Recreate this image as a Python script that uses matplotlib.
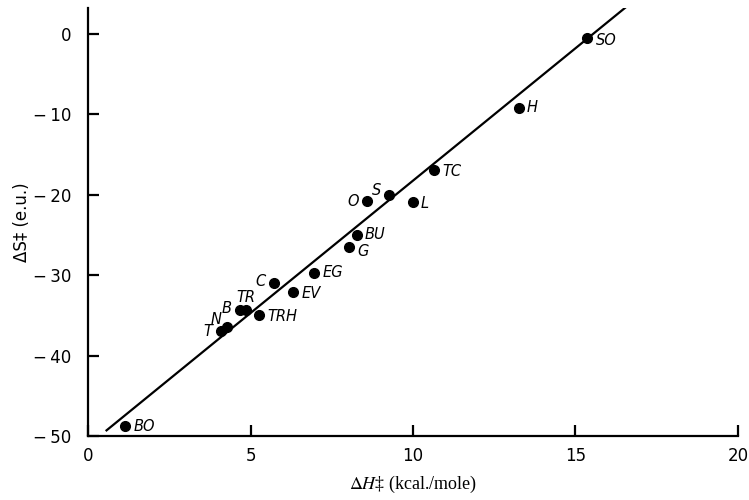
import matplotlib
matplotlib.use("Agg")
import matplotlib.pyplot as plt

plt.rcParams["mathtext.fontset"] = "stix"

labels = ["BO", "T", "N", "B", "TR", "TRH", "C", "EV", "EG", "G", "BU",
          "O", "S", "L", "TC", "H", "SO"]
dH = [1.14, 4.08, 4.27, 4.68, 4.86, 5.26, 5.72, 6.32, 6.95, 8.03, 8.27,
      8.60, 9.27, 9.99, 10.66, 13.25, 15.36]
dS = [-48.7, -37.0, -36.4, -34.3, -34.4, -35.0, -31.0, -32.1, -29.7, -26.5, -25.0,
      -20.8, -20.0, -20.9, -16.9, -9.2, -0.5]
fit_x = [0.57, 16.55]
fit_y = [-49.3, 3.3]
yticks = [0, -10, -20, -30, -40, -50]
ytick_labels = ["0", "\u2212\u200910", "\u2212\u200920", "\u2212\u200930",
                "\u2212\u200940", "\u2212\u200950"]

# label offsets in points (dx, dy, ha)
offsets = {
    "BO": (6, -1, "left"), "T": (-6, 0, "right"), "N": (-4, 5, "right"),
    "B": (-6, 1, "right"), "TR": (0, 9, "center"), "TRH": (6, -1, "left"),
    "C": (-6, 1, "right"), "EV": (6, -1, "left"), "EG": (6, 0, "left"),
    "G": (6, -3, "left"), "BU": (6, 0, "left"), "O": (-6, 0, "right"),
    "S": (-6, 3, "right"), "L": (6, -1, "left"), "TC": (6, -1, "left"),
    "H": (6, 0, "left"), "SO": (6, -2, "left"),
}

fig = plt.figure(figsize=(7.49, 5.0), dpi=100)
ax = fig.add_axes([0.1175, 0.128, 0.8678, 0.856])
ax.plot(fit_x, fit_y, color="black", lw=1.6, zorder=2)
ax.plot(dH, dS, "o", color="black", ms=7, zorder=3)
for lab, x, y in zip(labels, dH, dS):
    dx, dy, ha = offsets[lab]
    ax.annotate(lab, (x, y), xytext=(dx, dy), textcoords="offset points",
                ha=ha, va="center", fontsize=10.5, style="italic",
                family="DejaVu Sans")

ax.set_xlim(0, 20)
ax.set_ylim(-50, 3.2)
ax.set_xticks([0, 5, 10, 15, 20])
ax.set_yticks(yticks)
ax.set_yticklabels(ytick_labels)
for s in ["top", "right"]:
    ax.spines[s].set_visible(False)
for s in ["left", "bottom"]:
    ax.spines[s].set_linewidth(1.6)
ax.tick_params(direction="in", length=8, width=1.6, labelsize=12)
ax.tick_params(axis="y", pad=12)
ax.tick_params(axis="x", pad=8)
ax.set_xlabel(r"$\Delta H$‡ (kcal./mole)", family="Liberation Serif", fontsize=13, labelpad=6)
ax.set_ylabel("ΔS‡ (e.u.)", fontsize=12)
ax.yaxis.set_label_coords(-0.087, 0.5)
fig.savefig("out.png", dpi=100)
